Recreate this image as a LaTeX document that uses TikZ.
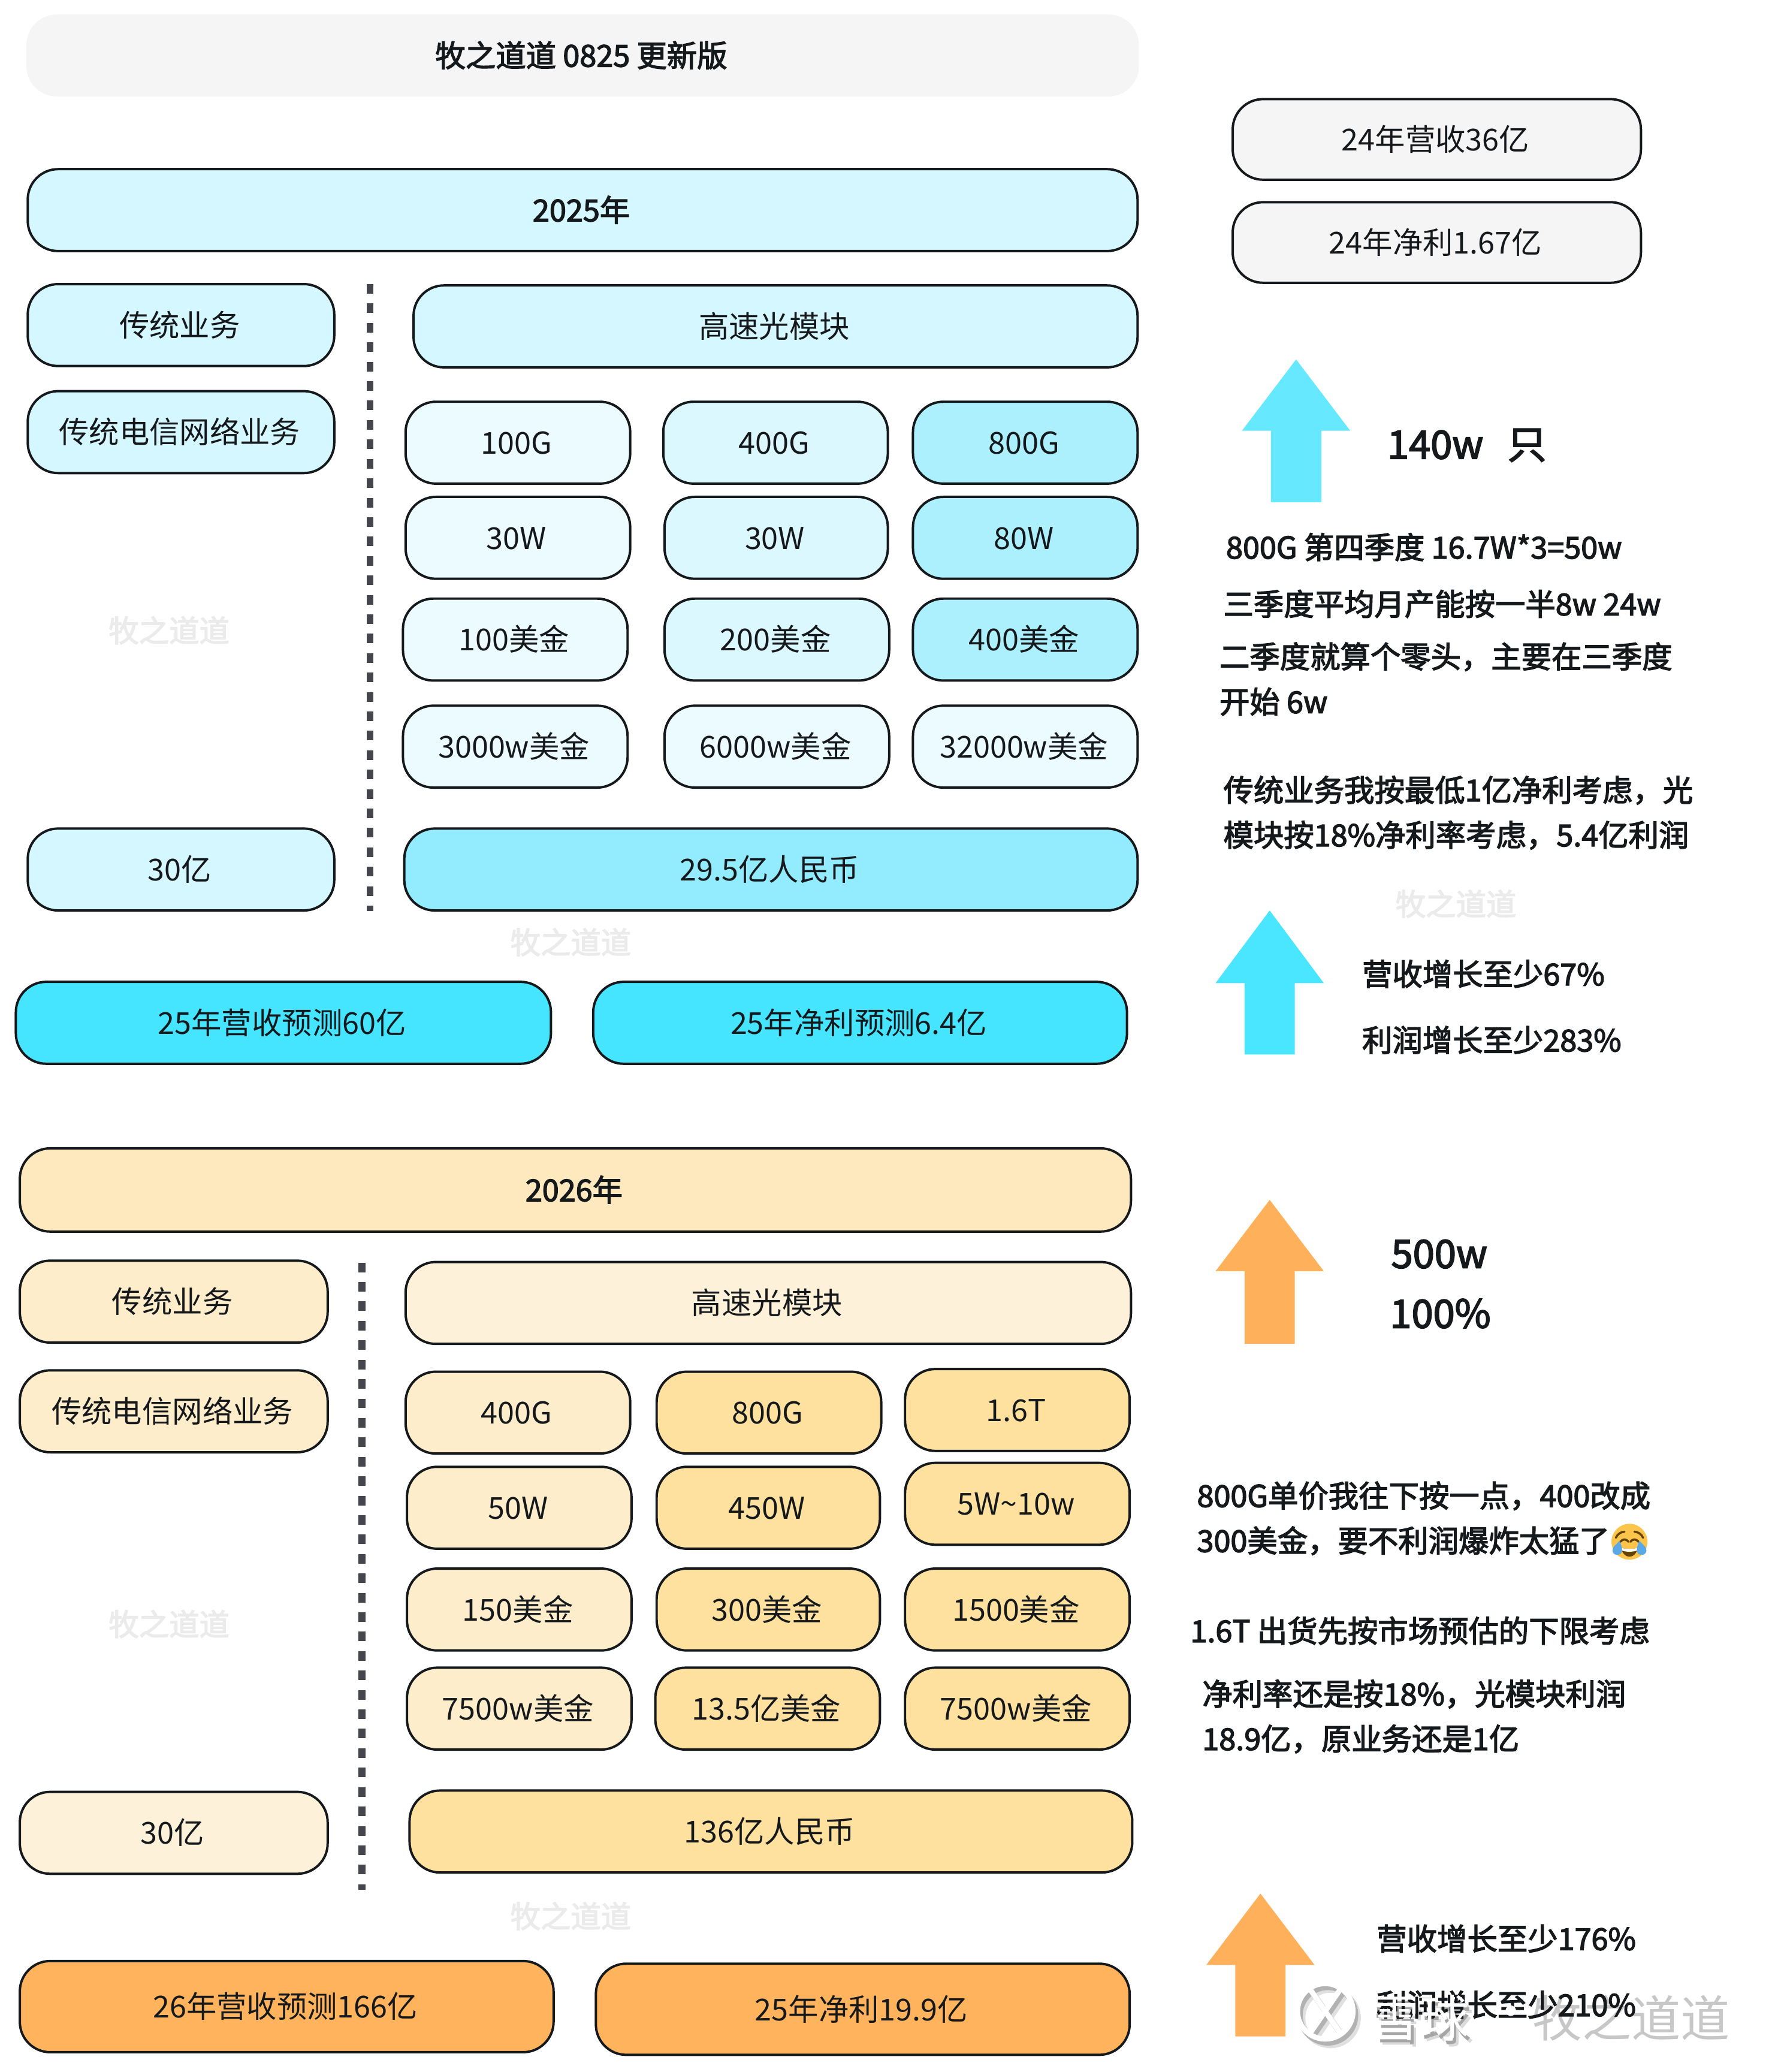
\documentclass[tikz,border=0pt]{standalone}
\usepackage{fontspec}
\setmainfont{Noto Sans CJK SC}
\newfontfamily\medf[FakeBold=2.8]{Noto Sans CJK SC}
\definecolor{inkc}{HTML}{16191C}
\definecolor{sepc}{HTML}{45454D}
\definecolor{cTitle}{HTML}{F5F5F5}
\definecolor{cA}{HTML}{D5F7FF}
\definecolor{cB}{HTML}{EBFBFF}
\definecolor{cC}{HTML}{ABF0FC}
\definecolor{cD}{HTML}{92ECFD}
\definecolor{cE}{HTML}{45E4FF}
\definecolor{cF}{HTML}{FDE9BD}
\definecolor{cJ}{HTML}{FDEDCB}
\definecolor{cG}{HTML}{FDF1DA}
\definecolor{cH}{HTML}{FEE09F}
\definecolor{cI}{HTML}{FFB35C}
\definecolor{arA}{HTML}{66E9FF}
\definecolor{arB}{HTML}{4AE6FF}
\definecolor{arC}{HTML}{FFB05A}
\definecolor{wm}{HTML}{EBEBEB}
\definecolor{emY}{HTML}{FBC54B}
\definecolor{emB}{HTML}{664200}
\definecolor{emT}{HTML}{5AA9E6}
\tikzset{
  x=1pt,y=-1pt,
  box/.style={draw=inkc,line width=1.8pt,rounded corners=23pt,inner sep=0pt,outer sep=0pt,text=inkc,
    font=\fontsize{22.85}{23}\selectfont,text height=20.5pt,text depth=3.5pt,align=center},
  ttl/.style={box,font=\medf\fontsize{22.85}{23}\selectfont},
  note/.style={anchor=west,inner sep=0pt,outer sep=0pt,text=inkc,font=\medf\fontsize{22.85}{23}\selectfont},
  big/.style={note,font=\medf\fontsize{29.5}{31}\selectfont},
  wmark/.style={inner sep=0pt,text=wm,font=\medf\fontsize{22.85}{23}\selectfont},
  sep/.style={draw=sepc,line width=5.1pt,dash pattern=on 7.25pt off 7.45pt},
  site/.style={inner sep=0pt,anchor=west,font=\fontsize{37.3}{37}\selectfont},
  emo/.style={draw=emB,line width=1.6pt,line cap=round},
}
\newcommand{\bx}[8][box]{\node[#1,fill=#7,minimum width={(#5-#3)*1pt},minimum height={(#6-#4)*1pt}] (#2) at ({(#3+#5)/2},{(#4+#6)/2}) {\hspace*{-2pt}#8};}
\newcommand{\uparrowshape}[5]{\fill[#1] (#2,#3) -- ({#2+41},#4) -- ({#2+19},#4) -- ({#2+19},#5) -- ({#2-19},#5) -- ({#2-19},#4) -- ({#2-41},#4) -- cycle;}
\newcommand{\sitelogo}[1]{%
  \draw[#1,line width=4pt] (1003,1522) circle (21);
  \draw[#1,line width=4pt] (992,1506) -- (1014,1538);
  \draw[#1,line width=4pt] (1014,1506) -- (992,1538);}
\begin{document}
\begin{tikzpicture}
\useasboundingbox (0,0) rectangle (1348,1568);
\fill[white] (0,0) rectangle (1348,1568);
% watermarks
\node[wmark] (w1) at (128,477) {牧之道道};
\node[wmark] (w2) at (432,713) {牧之道道};
\node[wmark] (w3) at (1102,684) {牧之道道};
\node[wmark] (w4) at (128,1229) {牧之道道};
\node[wmark] (w5) at (432,1450) {牧之道道};
% title
\node[ttl,draw=none,fill=cTitle,minimum width=842pt,minimum height=62pt] (title) at (441,42) {\hspace*{-2pt}牧之道道 0825 更新版};
% 2025
\bx[ttl]{y25}{21}{128}{861}{190}{cA}{2025年}
\bx{a1}{21}{215}{253}{277}{cA}{传统业务}
\bx{a2}{21}{296}{253}{358}{cA}{传统电信网络业务}
\bx{a3}{313}{216}{861}{278}{cA}{高速光模块}
\bx{b11}{307}{304}{477}{366}{cB}{100G}
\bx{b12}{502}{304}{672}{366}{cA!70!cB}{400G}
\bx{b13}{691}{304}{861}{366}{cC}{800G}
\bx{b21}{307}{376}{477}{438}{cB}{30W}
\bx{b22}{503}{376}{672}{438}{cA!70!cB}{30W}
\bx{b23}{691}{376}{861}{438}{cC}{80W}
\bx{b31}{305}{453}{475}{515}{cB}{100美金}
\bx{b32}{503}{453}{673}{515}{cA!70!cB}{200美金}
\bx{b33}{691}{453}{861}{515}{cC}{400美金}
\bx{b41}{305}{534}{475}{596}{cB}{3000w美金}
\bx{b42}{503}{534}{673}{596}{cB}{6000w美金}
\bx{b43}{691}{534}{861}{596}{cB}{32000w美金}
\bx{a4}{21}{627}{253}{689}{cA}{30亿}
\bx{a5}{306}{627}{861}{689}{cD}{29.5亿人民币}
\bx{r1}{12}{743}{417}{805}{cE}{25年营收预测60亿}
\bx{r2}{449}{743}{853}{805}{cE}{25年净利预测6.4亿}
\coordinate (s1a) at (280,215);
\coordinate (s1b) at (280,689.2);
\draw[sep] (s1a) -- (s1b);
% 2026
\bx[ttl]{y26}{15}{869}{856}{932}{cF}{2026年}
\bx{c1}{15}{954}{248}{1016}{cJ}{传统业务}
\bx{c2}{15}{1037}{248}{1099}{cJ}{传统电信网络业务}
\bx{c3}{307}{955}{856}{1017}{cG}{高速光模块}
\bx{d11}{307}{1038}{477}{1100}{cJ}{400G}
\bx{d12}{497}{1038}{667}{1100}{cH}{800G}
\bx{d13}{685}{1036}{855}{1098}{cH}{1.6T}
\bx{d21}{308}{1110}{478}{1172}{cJ}{50W}
\bx{d22}{497}{1110}{666}{1172}{cH}{450W}
\bx{d23}{685}{1107}{855}{1169}{cH}{5W\textasciitilde10w}
\bx{d31}{308}{1187}{478}{1249}{cJ}{150美金}
\bx{d32}{497}{1187}{666}{1249}{cH}{300美金}
\bx{d33}{685}{1187}{855}{1249}{cH}{1500美金}
\bx{d41}{308}{1262}{478}{1324}{cJ}{7500w美金}
\bx{d42}{496}{1262}{666}{1324}{cH}{13.5亿美金}
\bx{d43}{685}{1262}{855}{1324}{cH}{7500w美金}
\bx{c4}{15}{1356}{248}{1418}{cG}{30亿}
\bx{c5}{310}{1355}{857}{1417}{cH}{136亿人民币}
\bx{q1}{15}{1484}{419}{1553}{cI}{26年营收预测166亿}
\bx{q2}{451}{1486}{855}{1555}{cI}{25年净利19.9亿}
\coordinate (s2a) at (274,955.5);
\coordinate (s2b) at (274,1430);
\draw[sep] (s2a) -- (s2b);
% right column
\bx{t1}{933}{75}{1242}{136}{cTitle}{24年营收36亿}
\bx{t2}{933}{153}{1242}{214}{cTitle}{24年净利1.67亿}
\uparrowshape{arA}{981}{272}{326}{380}
\uparrowshape{arB}{961}{689}{744}{798}
\uparrowshape{arC}{961}{908}{962}{1017}
\uparrowshape{arC}{954}{1433}{1487}{1541}
\node[big] (n1) at (1050,337) {140w\hspace{0.62em}只};
\node[note] (n2) at (928,414) {800G 第四季度 16.7W*3=50w};
\node[note] (n3) at (926,457) {三季度平均月产能按一半8w 24w};
\node[note] (n4) at (923,497) {二季度就算个零头，主要在三季度};
\node[note] (n5) at (923,531) {开始 6w};
\node[note] (n6) at (926,598) {传统业务我按最低1亿净利考虑，光};
\node[note] (n7) at (926,632) {模块按18\%净利率考虑，5.4亿利润};
\node[note] (n8) at (1031,737) {营收增长至少67\%};
\node[note] (n9) at (1031,787) {利润增长至少283\%};
\node[big] (n10) at (1053,949) {500w};
\node[big] (n11) at (1052,994) {100\%};
\node[note] (n12) at (906,1132) {800G单价我往下按一点，400改成};
\node[note] (n13) at (906,1166) {300美金，要不利润爆炸太猛了};
\node[note] (n14) at (901,1234) {1.6T 出货先按市场预估的下限考虑};
\node[note] (n15) at (910,1282) {净利率还是按18\%，光模块利润};
\node[note] (n16) at (910,1316) {18.9亿，原业务还是1亿};
\node[note] (n17) at (1042,1467) {营收增长至少176\%};
% emoji
\begin{scope}[shift={(1233.3,1166.7)},scale=0.151]
\fill[emY] (0,0) circle (90);
\fill[emB] (-42,30) .. controls (-20,38) and (20,38) .. (42,30) .. controls (35,60) and (20,75) .. (0,75) .. controls (-20,75) and (-35,60) .. (-42,30) -- cycle;
\fill[white] (-42,30) .. controls (-20,38) and (20,38) .. (42,30) -- (38,44) .. controls (15,52) and (-15,52) .. (-38,44) -- cycle;
\draw[emo] (-68,-20) .. controls (-60,-40) and (-40,-50) .. (-25,-50);
\draw[emo] (68,-20) .. controls (60,-40) and (40,-50) .. (25,-50);
\draw[emo] (-45,0) .. controls (-35,-15) and (-15,-15) .. (-5,0);
\draw[emo] (45,0) .. controls (35,-15) and (15,-15) .. (5,0);
\fill[emT] (-50,-5) .. controls (-60,10) and (-88,25) .. (-85,45) .. controls (-82,72) and (-45,72) .. (-38,50) .. controls (-33,30) and (-45,10) .. (-50,-5) -- cycle;
\fill[emT] (50,-5) .. controls (60,10) and (88,25) .. (85,45) .. controls (82,72) and (45,72) .. (38,50) .. controls (33,30) and (45,10) .. (50,-5) -- cycle;
\end{scope}
% site watermark
\node[site,text=black!22] (shD) at (1160,1527) {牧之道道};
\begin{scope}[shift={(4,5)}]
\sitelogo{black!12}
\node[site,text=black!14] (shA) at (1037,1527) {雪球};
\end{scope}
\begin{scope}[shift={(2,3)}]
\sitelogo{black!30}
\node[site,text=black!35] (shB) at (1037,1527) {雪球};
\end{scope}
\node[note] (n18) at (1042,1517) {利润增长至少210\%};
\sitelogo{white}
\node[site,text=white] (shC) at (1037,1527) {雪球};
\node[site,text=white] (shE) at (1125,1527) {·};
\end{tikzpicture}
\end{document}
